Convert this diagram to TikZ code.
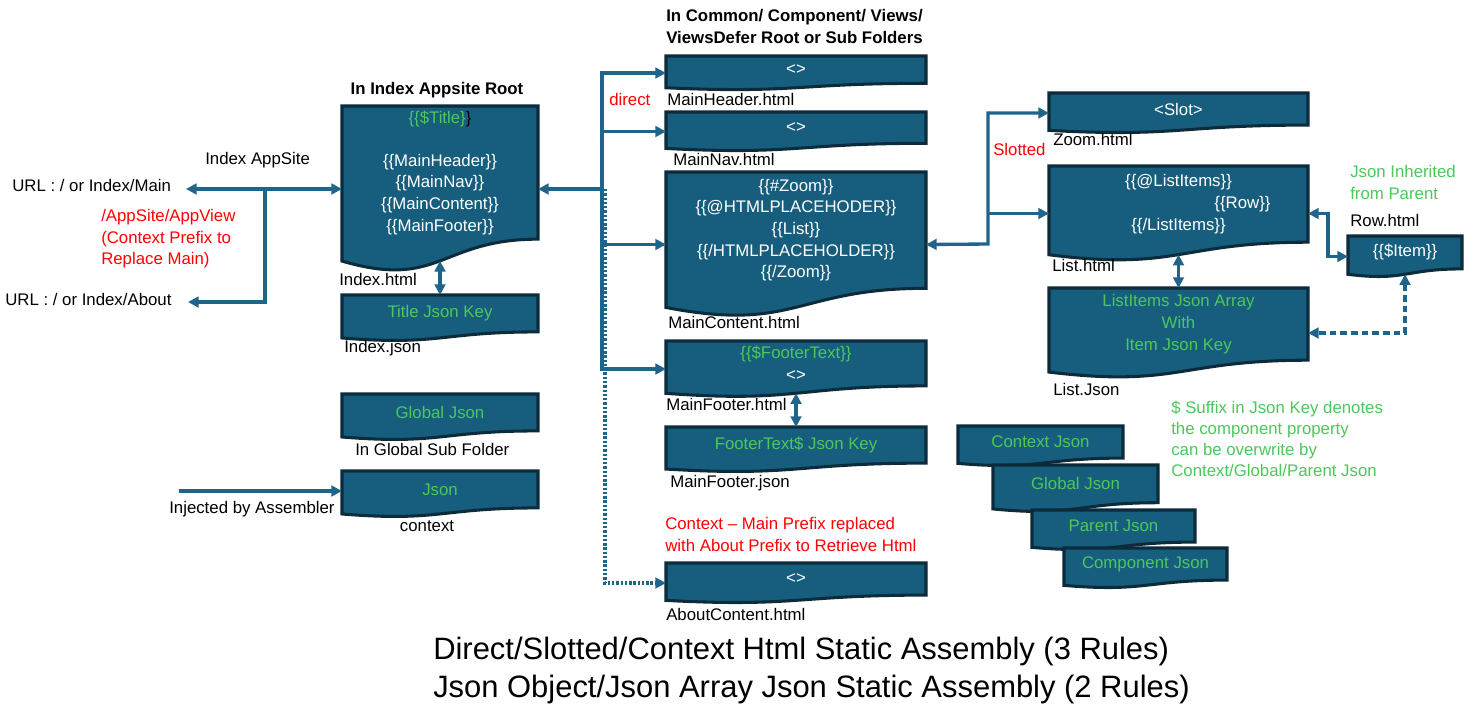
\documentclass[tikz,border=0pt]{standalone}
\usepackage{fontspec}
\setmainfont{Liberation Sans}
\usetikzlibrary{arrows.meta,fit}
\definecolor{docfill}{HTML}{175E7E}
\definecolor{docline}{HTML}{0C2B3B}
\definecolor{connc}{HTML}{1F6589}
\definecolor{jgreen}{HTML}{4CC85B}
\definecolor{rred}{HTML}{FF0000}
\newcommand\mybody{\fontsize{12.6}{16.2}\selectfont}
\newcommand\mybig{\fontsize{23.2}{28.5}\selectfont}
\newcommand\docbox[6]{%
  \pgfmathsetmacro\dA{#3+0.802*(#5-#3)}%
  \pgfmathsetmacro\dB{#3+1.107*(#5-#3)}%
  \pgfmathsetmacro\dC{#3+0.934*(#5-#3)}%
  \pgfmathsetmacro\dM{(#2+#4)/2}%
  \pgfmathsetmacro\dT{#3+0.401*(#5-#3)}%
  \pgfmathsetmacro\dBot{#3+0.933*(#5-#3)}%
  \draw[docstyle] (#2,#3) -- (#4,#3) -- (#4,\dA) .. controls (\dM,\dA) and (\dM,\dB) .. (#2,\dC) -- cycle;
  \node[fit={(#2,#3) (#4,#5)}, inner sep=0pt, outer sep=0pt] (#1) {};
  \coordinate (#1-b) at (\dM,\dBot);
  \node[doctext] (#1-t) at (\dM,\dT) {#6};
}
\begin{document}
\begin{tikzpicture}[x=0.75pt,y=-0.75pt,
  docstyle/.style={fill=docfill,draw=docline,line width=2.3pt,line join=miter},
  doctext/.style={text=white,font=\mybody,align=center,inner sep=0pt},
  lbl/.style={font=\mybody,inner sep=0pt,anchor=west,text height=0.72em,text depth=0.2em},
  mlbl/.style={font=\mybody,inner sep=0pt,anchor=west,align=left},
  ttl/.style={font=\mybody\bfseries,inner sep=0pt,align=left},
  conn/.style={draw=connc,line width=2.5pt},
  >={Triangle[length=8pt,width=8pt]},
  dotline/.style={dash pattern=on 1.8pt off 1.4pt},
  dashline/.style={dash pattern=on 5pt off 3pt}
]
\useasboundingbox (0,0) rectangle (1481,719);
\fill[white] (0,0) rectangle (1481,719);

% ---------- documents ----------
\docbox{idx}{342}{106}{538}{272}{{\color{jgreen}\{\{\$Title\}}{\color{black}\}}\\\strut\\\{\{MainHeader\}\}\\\{\{MainNav\}\}\\\{\{MainContent\}\}\\\{\{MainFooter\}\}}
\docbox{tj}{342}{295}{538}{341}{\color{jgreen}Title Json Key}
\docbox{gj}{342}{394}{538}{440}{\color{jgreen}Global Json}
\docbox{ctx}{342}{471}{538}{517}{\color{jgreen}Json}

\docbox{mh}{666}{56}{926}{90}{<>}
\docbox{mn}{666}{112}{926}{151}{<>}
\docbox{mc}{666}{172}{926}{317}{\{\{\#Zoom\}\}\\\{\{@HTMLPLACEHODER\}\}\\\{\{List\}\}\\\{\{/HTMLPLACEHOLDER\}\}\\\{\{/Zoom\}\}}
\docbox{mf}{666}{341}{926}{397}{{\color{jgreen}\{\{\$FooterText\}\}}\\<>}
\docbox{fj}{666}{427}{926}{472}{\color{jgreen}FooterText\$ Json Key}
\docbox{ac}{666}{563}{926}{603}{<>}

\docbox{zm}{1049}{93}{1308}{133}{<Slot>}
\docbox{li}{1049}{166}{1308}{261}{\{\{@ListItems\}\}\\\hspace*{96pt}\{\{Row\}\}\\\{\{/ListItems\}\}}
\docbox{lj}{1049}{288}{1308}{378}{\color{jgreen}ListItems Json Array\\\color{jgreen}With\\\color{jgreen}Item Json Key}
\docbox{row}{1348}{236}{1462}{277}{\{\{\$Item\}\}}

\docbox{cj}{958}{426}{1123}{466}{\color{jgreen}Context Json}
\docbox{gj2}{993}{465}{1158}{512}{\color{jgreen}Global Json}
\docbox{pj}{1032}{510}{1195}{550}{\color{jgreen}Parent Json}
\docbox{compj}{1064}{548}{1227}{588}{\color{jgreen}Component Json}

% ---------- titles and labels ----------
\node[ttl,anchor=center] (t1) at (437,90) {In Index Appsite Root};
\node[ttl,anchor=west,font=\fontsize{12.6}{15.8}\selectfont\bfseries] (t2) at (666,26.5) {In Common/ Component/ Views/\\ViewsDefer Root or Sub Folders};

\node[lbl] (lapp) at (205,161) {Index AppSite};
\node[lbl] (urlmain) at (12,188) {URL : / or Index/Main};
\node[lbl] (urlabout) at (5,302) {URL : / or Index/About};
\node[mlbl,text=rred,font=\fontsize{12.6}{16.1}\selectfont] (lctx) at (101,239) {/AppSite/AppView\\(Context Prefix to\\Replace Main)};
\node[lbl] (lidx) at (339,282) {Index.html};
\node[lbl] (lidxj) at (344,349) {Index.json};
\node[lbl] (lglob) at (355,452) {In Global Sub Folder};
\node[lbl] (linj) at (169,510) {Injected by Assembler};
\node[lbl,anchor=center] (lctxt) at (427,528) {context};

\node[lbl,text=rred] (ldirect) at (609,102) {direct};
\node[lbl] (lmh) at (667,102) {MainHeader.html};
\node[lbl] (lmn) at (673,162) {MainNav.html};
\node[lbl] (lmc) at (668,325) {MainContent.html};
\node[lbl] (lmf) at (666,407) {MainFooter.html};
\node[lbl] (lmfj) at (670,484) {MainFooter.json};
\node[mlbl,text=rred,font=\fontsize{12.6}{16.5}\selectfont] (lcm) at (665,534) {Context -- Main Prefix replaced\\with About Prefix to Retrieve Html};
\node[lbl] (lac) at (666,617) {AboutContent.html};

\node[lbl] (lzm) at (1053,142) {Zoom.html};
\node[lbl,text=rred] (lslot) at (993,152) {Slotted};
\node[lbl] (lli) at (1052,268) {List.html};
\node[lbl] (llj) at (1053,392) {List.Json};
\node[mlbl,text=jgreen] (linh) at (1350,182.5) {Json Inherited\\from Parent};
\node[lbl] (lrow) at (1350,223) {Row.html};
\node[mlbl,text=jgreen,font=\fontsize{12.6}{15.8}\selectfont] (lsuf) at (1171,438.5) {\$ Suffix in Json Key denotes\\the component property\\can be overwrite by\\Context/Global/Parent Json};

\node[mlbl,font=\mybig] (lbottom) at (433,670) {Direct/Slotted/Context Html Static Assembly (3 Rules)\\Json Object/Json Array Json Static Assembly (2 Rules)};

% ---------- connectors ----------
\coordinate (pmain) at (186,189);
\coordinate (pabout) at (188,302);
\coordinate (jleft) at (265,189);
\coordinate (pinj) at (179,491);
\coordinate (bus) at (602,189);
\coordinate (busd) at (605,189);
\coordinate (sbus) at (988,244);

\draw[conn,<->] (pmain) -- (pmain -| idx.west);
\draw[conn,->] (jleft) |- (pabout);
\draw[conn,->] (pinj) -- (pinj -| ctx.west);
\draw[conn,<->] (idx-b) -- (tj.north);

\draw[conn,->] (bus) -- (bus -| idx.east);
\draw[conn,->] (bus) |- (mh.west);
\draw[conn,->] (bus) |- (mn.west);
\draw[conn,->] (bus) |- (mc.west);
\draw[conn,->] (bus) |- (mf.west);
\draw[conn,dotline,->] (busd) |- (ac.west);
\draw[conn,<->] (mf-b) -- (fj.north);

\draw[conn,<->] (mc.east) -- (sbus) |- (zm.west);
\draw[conn,->] (sbus |- li.west) -- (li.west);
\draw[conn,<->] (li-b) -- (lj.north);
\draw[conn,<->] (li.east) -- ++(20,0) |- (row.west);
\draw[conn,dashline,<->] (row-b) |- (lj.east);
\end{tikzpicture}
\end{document}
